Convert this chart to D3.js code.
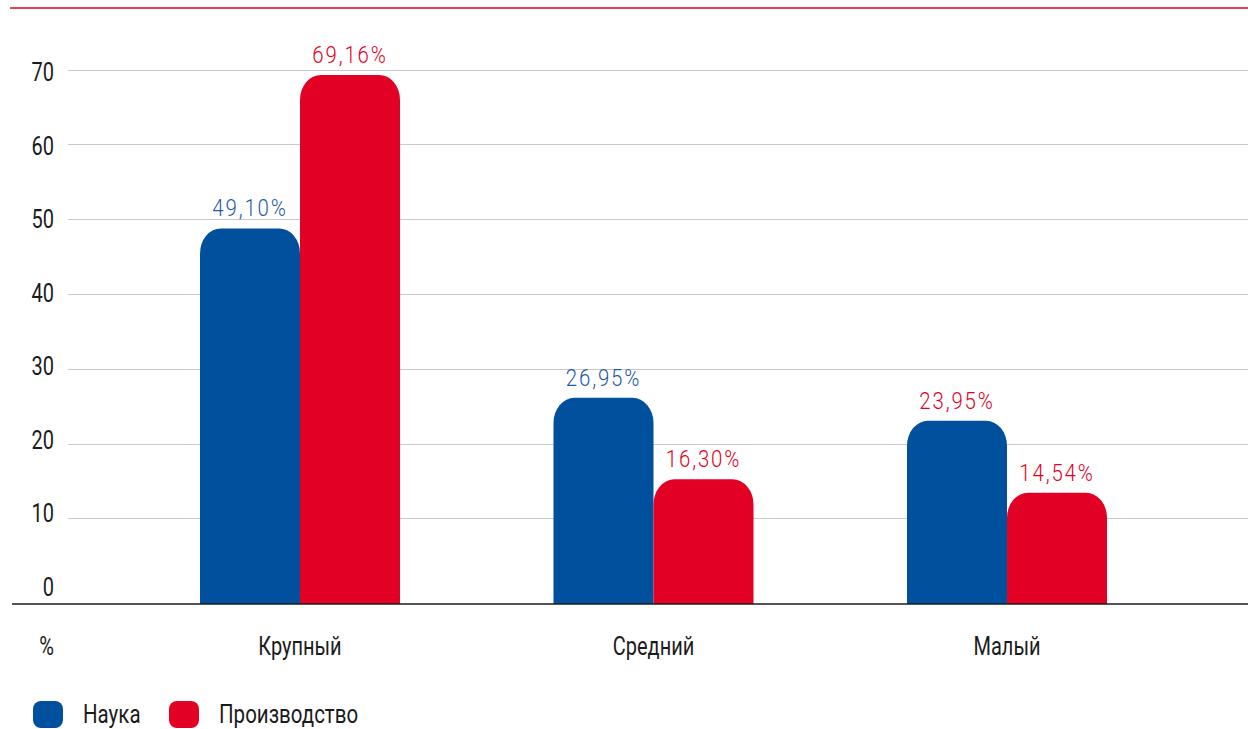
<!DOCTYPE html>
<html><head><meta charset="utf-8">
<script src="https://cdn.jsdelivr.net/npm/d3@7/dist/d3.min.js"></script>
<style>
html,body{margin:0;padding:0;background:#fff;}
svg{display:block;}
text{font-family:"Roboto","Liberation Sans",sans-serif;font-weight:400;}
text.val{font-weight:300;}
</style></head>
<body><svg id="chart" width="1248" height="729"></svg>
<script>
const categories = ["Крупный", "Средний", "Малый"];
const seriesNames = ["Наука", "Производство"];
const nauka = [49.10, 26.95, 23.95];
const proizvodstvo = [69.16, 16.30, 14.54];
const valueLabels = [["49,10%", "69,16%"], ["26,95%", "16,30%"], ["23,95%", "14,54%"]];
const labelColors = [["blue", "red"], ["blue", "red"], ["red", "red"]];
const yTicks = [0, 10, 20, 30, 40, 50, 60, 70];
const unitLabel = "%";

const BLUE = "#00509E", RED = "#E30025", BLUE_TXT = "#1D5BA6", TXT = "#1b1b1b";
const SX = 0.8;
const svg = d3.select("#chart");

const x0 = d3.scaleBand().domain(categories).range([200, 1107]).paddingInner(0.4342).paddingOuter(0);
const x1 = d3.scaleBand().domain(seriesNames).range([0, x0.bandwidth()]);
const y = d3.scaleLinear().domain([0, 70]).range([604, 68.5]);
const yGrid = d3.scaleLinear().domain([0, 70]).range([593.1, 69.5]);
const yLab = d3.scaleLinear().domain([0, 70]).range([587, 72.5]);

function place(sel, fx, fy, sx) {
  return sel.attr("transform", (d, i) => `translate(${fx(d, i)},${fy(d, i)}) scale(${sx},1)`);
}

// top red rule
svg.append("line").attr("x1", 10).attr("x2", 1248).attr("y1", 8).attr("y2", 8)
  .attr("stroke", RED).attr("stroke-width", 1.3);

// gridlines
svg.append("g").selectAll("line").data(yTicks.filter(d => d > 0)).join("line")
  .attr("x1", 68).attr("x2", 1248)
  .attr("y1", d => Math.round(yGrid(d)) + 0.5).attr("y2", d => Math.round(yGrid(d)) + 0.5)
  .attr("stroke", "#c9c9c9").attr("stroke-width", 1);

// tick labels
place(svg.append("g").selectAll("text").data(yTicks).join("text"),
  () => 54, d => yLab(d) + 8.5, SX)
  .attr("text-anchor", "end").attr("font-size", 25).attr("fill", TXT)
  .text(d => d);

// bars
function topRounded(x, yTop, w, yBase, rx, ry) {
  const h = yBase - yTop;
  ry = Math.min(ry, h); rx = Math.min(rx, w / 2);
  return `M${x},${yBase}V${yTop + ry}A${rx},${ry} 0 0 1 ${x + rx},${yTop}H${x + w - rx}A${rx},${ry} 0 0 1 ${x + w},${yTop + ry}V${yBase}Z`;
}
const rows = categories.map((c, i) => [
  {cat: c, s: seriesNames[0], v: nauka[i], lab: valueLabels[i][0], lc: labelColors[i][0]},
  {cat: c, s: seriesNames[1], v: proizvodstvo[i], lab: valueLabels[i][1], lc: labelColors[i][1]}
]).flat();

svg.append("g").selectAll("path").data(rows).join("path")
  .attr("d", d => topRounded(x0(d.cat) + x1(d.s), y(d.v), x1.bandwidth(), y(0), 21, 25))
  .attr("fill", d => d.s === seriesNames[0] ? BLUE : RED);

place(svg.append("g").selectAll("text").data(rows).join("text").attr("class", "val"),
  d => x0(d.cat) + x1(d.s) + x1.bandwidth() / 2, d => y(d.v) - 12, 0.85)
  .attr("text-anchor", "middle").attr("font-size", 24).attr("letter-spacing", 2.2)
  .attr("fill", d => d.lc === "blue" ? BLUE_TXT : RED)
  .text(d => d.lab);

// axis baseline
svg.append("line").attr("x1", 12).attr("x2", 1248).attr("y1", y(0)).attr("y2", y(0))
  .attr("stroke", "#1b1b1b").attr("stroke-width", 1.6);

// category labels
place(svg.append("g").selectAll("text").data(categories).join("text"),
  d => x0(d) + x0.bandwidth() / 2, () => 655, SX)
  .attr("text-anchor", "middle").attr("font-size", 25).attr("fill", TXT)
  .text(d => d);
svg.append("text").attr("transform", `translate(54,655) scale(${SX},1)`).attr("text-anchor", "end")
  .attr("font-size", 25).attr("fill", TXT).text(unitLabel);

// legend
const leg = svg.append("g");
const legX = [33, 169];
seriesNames.forEach((s, i) => {
  leg.append("rect").attr("x", legX[i]).attr("y", 701).attr("width", 30).attr("height", 27)
    .attr("rx", 8).attr("fill", i === 0 ? BLUE : RED);
  leg.append("text").attr("transform", `translate(${legX[i] + 50},723) scale(0.82,1)`)
    .attr("font-size", 25).attr("fill", TXT).text(s);
});
</script></body></html>
